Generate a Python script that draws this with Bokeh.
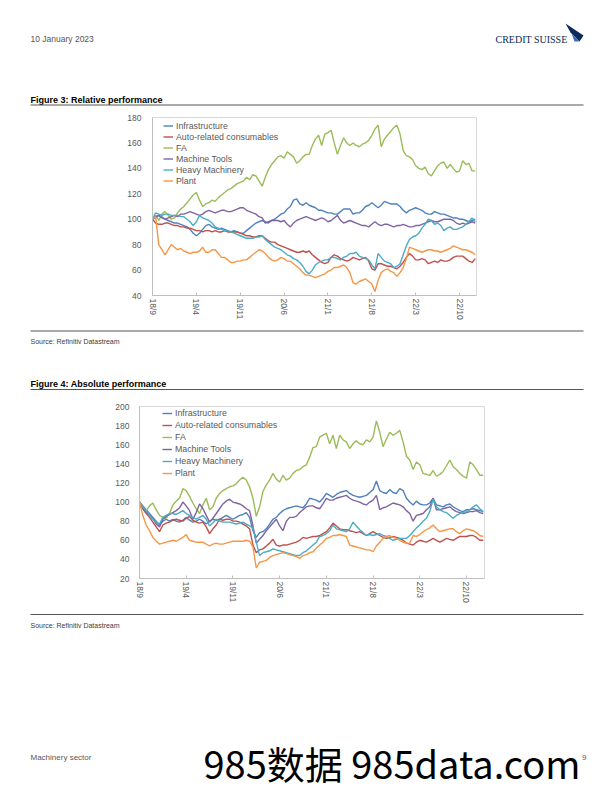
import math
from bokeh.plotting import figure
from bokeh.layouts import column
from bokeh.models import Range1d, FixedTicker, Legend, LegendItem
from bokeh.core.properties import value
from bokeh.embed import file_html
from bokeh.resources import INLINE

FONT = "Liberation Sans"
GRAY = "#595959"

series_names = ["Infrastructure", "Auto-related consumables", "FA",
                "Machine Tools", "Heavy Machinery", "Plant"]
series_colors = ["#4F81BD", "#C0504D", "#9BBB59", "#8064A2", "#4BACC6", "#F79646"]

tick_months = [0, 7, 14, 21, 28, 35, 42, 49]
tick_labels = ["18/9", "19/4", "19/11", "20/6", "21/1", "21/8", "22/3", "22/10"]

# half-month sampling points, Sep-2018 = 0
months = [i * 0.5 for i in range(104)]

# ---------- Figure 3: relative performance ----------
rel_infra = [100, 101, 103, 102, 100, 99, 98, 97, 97, 96,
             95, 94, 92, 89, 87, 89, 92, 95, 96, 94,
             93, 92, 93, 92, 91, 90, 91, 90, 89, 89,
             91, 93, 95, 97, 98, 99, 98, 97, 99, 100,
             102, 104, 105, 108, 110, 115, 116, 112, 111, 113,
             111, 110, 109, 107, 107, 106, 105, 105, 104, 104,
             106, 108, 108, 108, 104, 105, 105, 107, 110, 111,
             113, 111, 109, 111, 114, 113, 112, 112, 112, 110,
             107, 105, 107, 108, 109, 108, 107, 105, 104, 104,
             106, 105, 104, 104, 103, 102, 101, 101, 100, 100,
             99, 98, 99, 100]
rel_auto = [100, 97, 96, 96, 97, 97, 96, 95, 95, 94,
            94, 93, 93, 92, 91, 91, 90, 91, 91, 90,
            91, 90, 90, 91, 90, 90, 90, 90, 89, 88,
            87, 87, 86, 86, 87, 87, 85, 83, 82, 82,
            80, 79, 78, 77, 76, 75, 74, 74, 75, 74,
            75, 72, 70, 68, 66, 65, 66, 70, 72, 71,
            69, 68, 67, 68, 70, 69, 68, 69, 70, 67,
            61, 60, 65, 65, 64, 63, 63, 62, 61, 63,
            66, 70, 73, 71, 68, 68, 69, 68, 65, 66,
            67, 66, 68, 67, 67, 68, 70, 71, 71, 71,
            69, 67, 66, 69]
rel_fa = [100, 103, 99, 104, 106, 103, 100, 101, 105, 108,
          110, 113, 116, 119, 121, 115, 110, 112, 113, 115,
          114, 117, 119, 121, 123, 124, 126, 128, 129, 130,
          133, 131, 135, 134, 130, 126, 133, 139, 143, 146,
          149, 150, 148, 153, 151, 149, 144, 146, 149, 151,
          151, 158, 163, 166, 158, 167, 168, 170, 160, 151,
          158, 164, 160, 158, 160, 158, 157, 159, 160, 162,
          166, 171, 174, 157, 163, 166, 169, 172, 174, 167,
          154, 150, 149, 147, 142, 140, 139, 141, 136, 134,
          138, 142, 144, 145, 140, 143, 140, 137, 138, 146,
          143, 144, 138, 138]
rel_mt = [100, 102, 103, 101, 100, 101, 102, 103, 102, 104,
          104, 105, 106, 105, 104, 103, 104, 106, 107, 106,
          105, 106, 107, 107, 106, 106, 107, 108, 109, 109,
          107, 106, 105, 104, 102, 101, 97, 98, 99, 99,
          99, 98, 99, 96, 94, 97, 99, 100, 101, 102,
          101, 100, 99, 100, 101, 100, 98, 99, 101, 103,
          99, 97, 98, 99, 98, 97, 96, 95, 95, 94,
          96, 98, 96, 95, 96, 96, 95, 94, 95, 95,
          96, 95, 94, 94, 95, 95, 96, 97, 98, 99,
          98, 98, 99, 100, 100, 100, 99, 97, 96, 97,
          96, 97, 98, 97]
rel_hm = [100, 105, 104, 103, 104, 104, 103, 103, 103, 102,
          102, 100, 98, 95, 98, 103, 101, 100, 99, 97,
          94, 93, 92, 91, 91, 90, 89, 88, 87, 86,
          85, 85, 85, 86, 86, 87, 84, 82, 80, 78,
          77, 76, 74, 72, 71, 69, 68, 66, 63, 59,
          57, 60, 64, 66, 67, 68, 68, 70, 70, 69,
          68, 70, 71, 73, 73, 74, 71, 70, 69, 68,
          64, 61, 73, 70, 67, 66, 65, 62, 63, 65,
          72, 79, 84, 86, 87, 89, 93, 96, 100, 99,
          96, 97, 95, 91, 93, 94, 92, 92, 93, 94,
          96, 98, 101, 98]
rel_plant = [100, 102, 80, 76, 72, 76, 80, 78, 76, 77,
             75, 74, 73, 74, 74, 75, 78, 74, 74, 76,
             76, 73, 70, 70, 68, 66, 66, 67, 67, 68,
             68, 70, 72, 74, 76, 75, 73, 70, 68, 67,
             68, 70, 69, 67, 67, 65, 63, 61, 58, 56,
             56, 55, 54, 55, 56, 57, 59, 60, 62, 62,
             63, 64, 62, 58, 50, 49, 51, 52, 53, 51,
             49, 43, 52, 58, 60, 61, 59, 58, 55, 58,
             62, 69, 78, 77, 76, 75, 74, 75, 76, 76,
             75, 75, 74, 75, 76, 77, 79, 78, 77, 76,
             76, 75, 74, 72]

# ---------- Figure 4: absolute performance ----------
abs_infra = [100, 96, 92, 88, 84, 80, 76, 80, 82, 80,
             82, 80, 79, 81, 84, 81, 79, 80, 82, 80,
             77, 80, 82, 81, 82, 84, 86, 84, 82, 84,
             86, 87, 89, 84, 70, 63, 68, 69, 72, 77,
             82, 84, 88, 91, 93, 94, 95, 96, 95, 94,
             98, 104, 103, 102, 100, 104, 109, 107, 105, 108,
             110, 111, 112, 109, 107, 106, 105, 106, 107, 110,
             113, 122, 112, 110, 109, 113, 110, 109, 114, 112,
             104, 100, 97, 101, 98, 97, 97, 99, 104, 97,
             96, 95, 97, 98, 95, 93, 91, 90, 92, 92,
             93, 92, 91, 90]
abs_auto = [100, 93, 88, 84, 79, 74, 69, 76, 78, 79,
            81, 82, 81, 80, 83, 85, 81, 79, 78, 79,
            74, 67, 72, 76, 82, 81, 82, 82, 80, 80,
            79, 77, 75, 72, 55, 47, 50, 51, 54, 57,
            61, 55, 54, 55, 55, 56, 57, 58, 60, 63,
            62, 63, 64, 64, 65, 67, 69, 73, 78, 75,
            72, 71, 71, 70, 69, 68, 69, 67, 65, 67,
            69, 67, 65, 63, 62, 63, 64, 63, 62, 60,
            57, 56, 55, 58, 60, 59, 58, 60, 62, 60,
            58, 60, 62, 61, 60, 62, 64, 64, 64, 65,
            65, 63, 60, 60]
abs_fa = [100, 94, 91, 96, 99, 92, 86, 84, 83, 88,
          97, 101, 104, 114, 112, 106, 99, 93, 88, 97,
          104, 92, 95, 104, 109, 112, 114, 116, 117, 119,
          123, 126, 123, 116, 104, 85, 95, 111, 118, 123,
          130, 124, 121, 128, 123, 125, 130, 133, 134, 137,
          139, 147, 157, 158, 168, 170, 172, 161, 170, 156,
          170, 165, 163, 156, 161, 164, 161, 160, 165, 163,
          168, 185, 173, 158, 166, 173, 170, 172, 175, 163,
          148, 144, 134, 142, 139, 130, 129, 128, 133, 127,
          129, 132, 138, 144, 137, 134, 130, 127, 125, 142,
          139, 134, 128, 128]
abs_mt = [100, 94, 89, 86, 83, 77, 74, 82, 85, 87,
          89, 91, 94, 100, 96, 91, 82, 89, 98, 93,
          86, 79, 83, 88, 93, 98, 101, 103, 100, 99,
          98, 96, 93, 91, 75, 57, 61, 65, 70, 74,
          78, 82, 75, 70, 80, 84, 84, 85, 89, 92,
          95, 96, 96, 94, 93, 98, 104, 102, 102, 104,
          105, 106, 107, 104, 102, 101, 100, 98, 97, 100,
          102, 107, 92, 94, 95, 97, 99, 98, 97, 95,
          91, 88, 80, 86, 87, 88, 92, 95, 104, 92,
          92, 93, 94, 95, 92, 90, 89, 88, 89, 90,
          90, 91, 89, 88]
abs_hm = [100, 95, 91, 86, 82, 79, 77, 84, 86, 88,
          88, 87, 89, 91, 88, 86, 84, 82, 84, 86,
          82, 75, 78, 82, 80, 79, 79, 79, 78, 77,
          78, 79, 77, 75, 73, 58, 44, 47, 48, 49,
          51, 50, 49, 48, 47, 46, 45, 44, 44, 47,
          49, 52, 55, 58, 64, 65, 67, 70, 76, 72,
          71, 70, 69, 72, 79, 75, 71, 68, 65, 66,
          65, 66, 67, 65, 64, 62, 60, 61, 62, 62,
          62, 65, 69, 73, 76, 80, 83, 90, 103, 95,
          92, 90, 89, 86, 83, 86, 88, 89, 90, 92,
          95, 97, 93, 90]
abs_plant = [100, 86, 76, 70, 63, 59, 56, 57, 58, 59,
             60, 59, 61, 63, 66, 60, 59, 58, 58, 58,
             56, 54, 56, 57, 56, 56, 57, 58, 59, 59,
             59, 59, 60, 59, 53, 31, 37, 38, 39, 42,
             44, 45, 46, 47, 46, 45, 44, 43, 41, 44,
             45, 47, 48, 52, 55, 58, 62, 63, 65, 65,
             66, 65, 64, 55, 54, 53, 52, 51, 50, 50,
             48, 54, 58, 62, 64, 65, 63, 62, 60, 58,
             57, 57, 65, 64, 66, 69, 71, 73, 76, 72,
             69, 70, 71, 72, 72, 69, 67, 70, 72, 71,
             70, 68, 65, 64]

rel_series = [rel_infra, rel_auto, rel_fa, rel_mt, rel_hm, rel_plant]
abs_series = [abs_infra, abs_auto, abs_fa, abs_mt, abs_hm, abs_plant]
for s in rel_series + abs_series:
    assert len(s) == len(months), len(s)

rel_yticks = [40, 60, 80, 100, 120, 140, 160, 180]
abs_yticks = [20, 40, 60, 80, 100, 120, 140, 160, 180, 200]

W = 612
PX0, PX1 = 0, 612  # screen x extent of the figures


def no_align(p):
    if "frame_align" in p.properties():
        p.frame_align = False


def text_fig(top, bottom):
    p = figure(width=W, height=bottom - top, x_range=Range1d(PX0, PX1),
               y_range=Range1d(bottom, top), output_backend="svg",
               toolbar_location=None, min_border=0, x_axis_location=None,
               y_axis_location=None, outline_line_color=None)
    p.xgrid.grid_line_color = None
    p.ygrid.grid_line_color = None
    p.background_fill_color = "white"
    p.border_fill_color = "white"
    no_align(p)
    return p


def put(p, x, y, s, size="8px", color="#404040", bold=False, font=FONT,
        align="left", baseline="middle"):
    p.text(x=[x], y=[y], text=[s], text_font=value(font),
           text_font_size=value(size), text_color=color,
           text_font_style="bold" if bold else "normal",
           text_align=align, text_baseline=baseline)


def rule(p, y, color="#555555", width=1):
    p.line(x=[30, 583], y=[y, y], line_color=color, line_width=width)


def chart(top, bottom, frame_left, frame_right, frame_top, frame_bottom,
          yr, yticks, data, leg_x, leg_y, leg_h, y_standoff):
    p = figure(width=W, height=bottom - top, x_range=Range1d(0, 51.7),
               y_range=Range1d(*yr), output_backend="svg",
               toolbar_location=None,
               min_border_left=frame_left - PX0,
               min_border_right=PX1 - frame_right,
               min_border_top=frame_top - top,
               min_border_bottom=bottom - frame_bottom,
               outline_line_color="#d9d9d9")
    no_align(p)
    p.xgrid.grid_line_color = None
    p.ygrid.grid_line_color = None
    p.background_fill_color = "white"
    p.border_fill_color = "white"

    xa = p.xaxis[0]
    xa.ticker = FixedTicker(ticks=tick_months)
    xa.major_label_overrides = dict(zip(tick_months, tick_labels))
    xa.major_label_orientation = -math.pi / 2
    xa.minor_tick_line_color = None
    xa.axis_line_color = "#bfbfbf"
    xa.major_tick_line_color = "#bfbfbf"
    xa.major_tick_in = 3
    xa.major_tick_out = 0
    xa.major_label_standoff = 3
    xa.major_label_text_font = FONT
    xa.major_label_text_font_size = "8.5px"
    xa.major_label_text_color = GRAY

    ya = p.yaxis[0]
    ya.ticker = FixedTicker(ticks=yticks)
    ya.minor_tick_line_color = None
    ya.major_tick_line_color = None
    ya.major_tick_in = 0
    ya.major_tick_out = 0
    ya.axis_line_color = "#bfbfbf"
    ya.major_label_standoff = y_standoff
    ya.major_label_text_font = FONT
    ya.major_label_text_font_size = "8.5px"
    ya.major_label_text_color = GRAY

    items = []
    for name, col, ys in zip(series_names, series_colors, data):
        r = p.line(x=months, y=ys, line_color=col, line_width=1.4)
        items.append(LegendItem(label=name, renderers=[r]))
    leg = Legend(items=items, location=(leg_x, leg_y),
                 label_text_font=FONT, label_text_font_size="8.8px",
                 label_text_color=GRAY, glyph_width=10, glyph_height=leg_h,
                 label_height=leg_h, label_standoff=3, spacing=0,
                 padding=0, margin=0, background_fill_alpha=0,
                 border_line_color=None)
    p.add_layout(leg)
    return p


# ---- header ----
hdr = text_fig(0, 112)
put(hdr, 30, 38, "10 January 2023", size="8.5px", color="#555555")
put(hdr, 495, 38.5, "CREDIT SUISSE", size="10px", color="#0b2a5b",
    font="Liberation Serif")
hdr.patch(x=[565, 583, 579, 570], y=[23, 35, 41, 32], fill_color="#0b2a5b",
          line_color=None)
hdr.patch(x=[571, 579, 574], y=[33, 41, 41], fill_color="#3a6db5",
          line_color=None)
put(hdr, 30, 99, "Figure 3: Relative performance", size="9px",
    color="#000000", bold=True)
rule(hdr, 104.5, color="#555555")

# ---- chart 1 ----
c1 = chart(112, 323, 152, 476, 117, 295, (40, 180), rel_yticks, rel_series,
           11, 109, 11, 11)

# ---- middle ----
mid = text_fig(323, 398)
rule(mid, 330.5, color="#555555")
put(mid, 30, 341, "Source: Refinitiv Datastream", size="7px",
    color="#404040")
put(mid, 30, 383, "Figure 4: Absolute performance", size="9px",
    color="#000000", bold=True)
rule(mid, 389, color="#555555")

# ---- chart 2 ----
c2 = chart(398, 606, 139, 484, 406, 578, (20, 200), abs_yticks, abs_series,
           23, 99, 12, 10)

# ---- footer ----
ftr = text_fig(606, 790)
rule(ftr, 614, color="#555555")
put(ftr, 30, 625, "Source: Refinitiv Datastream", size="7px",
    color="#404040")
put(ftr, 30, 757, "Machinery sector", size="8px", color="#595959")
put(ftr, 586, 757, "9", size="8px", color="#595959", align="right")
put(ftr, 203, 762, "985数据 985data.com", size="38px", color="#000000",
    font="Noto Sans CJK SC", baseline="middle")

page = column(hdr, c1, mid, c2, ftr, spacing=0)

open("out.html", "w").write(file_html(page, INLINE))
